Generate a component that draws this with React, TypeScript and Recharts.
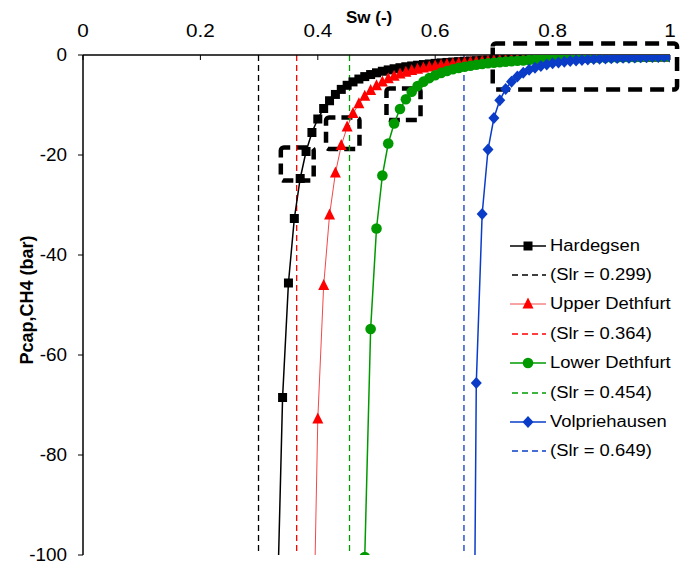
import React from "react";
import { LineChart, Line, XAxis, YAxis, ReferenceLine, ReferenceArea } from "recharts";

// Sw (-) and Pcap,CH4 (bar)
const swHardegsen = [
  0.33, 0.34, 0.35, 0.36, 0.37, 0.38, 0.39, 0.4, 0.41, 0.42, 0.43, 0.44, 0.45, 0.46, 0.47, 0.48, 0.49, 0.5,
  0.51, 0.52, 0.53, 0.54, 0.55, 0.56, 0.57, 0.58, 0.59, 0.6, 0.61, 0.62, 0.63, 0.64, 0.65, 0.66, 0.67, 0.68,
  0.69, 0.7, 0.71, 0.72, 0.73, 0.74, 0.75, 0.76, 0.77, 0.78, 0.79, 0.8, 0.81, 0.82, 0.83, 0.84, 0.85, 0.86,
  0.87, 0.88, 0.89, 0.9, 0.91, 0.92, 0.93, 0.94, 0.95, 0.96, 0.97, 0.98, 0.99, 1.0,
];
const pcHardegsen = [
  -115.2, -68.5, -45.6, -32.7, -24.7, -19.3, -15.5, -12.8, -10.7, -9.15, -7.89, -6.88, -6.06, -5.38, -4.81,
  -4.32, -3.91, -3.56, -3.25, -2.98, -2.75, -2.54, -2.35, -2.19, -2.04, -1.91, -1.79, -1.68, -1.58, -1.49,
  -1.41, -1.33, -1.26, -1.2, -1.14, -1.08, -1.03, -0.985, -0.94, -0.9, -0.86, -0.825, -0.79, -0.76, -0.73,
  -0.7, -0.675, -0.65, -0.63, -0.605, -0.58, -0.564, -0.545, -0.527, -0.51, -0.494, -0.48, -0.464, -0.45,
  -0.437, -0.42, -0.412, -0.4, -0.389, -0.38, -0.368, -0.36, -0.349,
];

const swUpper = [
  0.39, 0.4, 0.41, 0.42, 0.43, 0.44, 0.45, 0.46, 0.47, 0.48, 0.49, 0.5, 0.51, 0.52, 0.53, 0.54, 0.55, 0.56,
  0.57, 0.58, 0.59, 0.6, 0.61, 0.62, 0.63, 0.64, 0.65, 0.66, 0.67, 0.68, 0.69, 0.7, 0.71, 0.72, 0.73, 0.74,
  0.75, 0.76, 0.77, 0.78, 0.79, 0.8, 0.81, 0.82, 0.83, 0.84, 0.85, 0.86, 0.87, 0.88, 0.89, 0.9, 0.91, 0.92,
  0.93, 0.94, 0.95, 0.96, 0.97, 0.98, 0.99, 1.0,
];
const pcUpper = [
  -133.3, -72.8, -46.1, -32.0, -23.6, -18.1, -14.4, -11.7, -9.76, -8.26, -7.08, -6.14, -5.38, -4.76, -4.24,
  -3.8, -3.43, -3.11, -2.84, -2.6, -2.39, -2.2, -2.04, -1.89, -1.76, -1.65, -1.54, -1.45, -1.36, -1.28,
  -1.21, -1.14, -1.085, -1.03, -0.98, -0.93, -0.885, -0.84, -0.805, -0.77, -0.735, -0.7, -0.673, -0.647,
  -0.622, -0.597, -0.575, -0.553, -0.533, -0.514, -0.496, -0.479, -0.463, -0.448, -0.433, -0.419, -0.406,
  -0.393, -0.381, -0.37, -0.359, -0.349,
];

const swLower = [
  0.47, 0.48, 0.49, 0.5, 0.51, 0.52, 0.53, 0.54, 0.55, 0.56, 0.57, 0.58, 0.59, 0.6, 0.61, 0.62, 0.63, 0.64,
  0.65, 0.66, 0.67, 0.68, 0.69, 0.7, 0.71, 0.72, 0.73, 0.74, 0.75, 0.76, 0.77, 0.78, 0.79, 0.8, 0.81, 0.82,
  0.83, 0.84, 0.85, 0.86, 0.87, 0.88, 0.89, 0.9, 0.91, 0.92, 0.93, 0.94, 0.95, 0.96, 0.97, 0.98, 0.99, 1.0,
];
const pcLower = [
  -247.6, -100.4, -54.8, -34.7, -24.1, -17.7, -13.7, -10.8, -8.84, -7.35, -6.22, -5.33, -4.62, -4.05, -3.58,
  -3.19, -2.86, -2.58, -2.34, -2.14, -1.96, -1.8, -1.66, -1.54, -1.43, -1.33, -1.24, -1.16, -1.09, -1.02,
  -0.96, -0.91, -0.86, -0.814, -0.772, -0.733, -0.697, -0.664, -0.634, -0.605, -0.578, -0.553, -0.53,
  -0.508, -0.487, -0.468, -0.45, -0.433, -0.416, -0.401, -0.387, -0.374, -0.361, -0.349,
];

const swVolp = [
  0.66, 0.67, 0.68, 0.69, 0.7, 0.71, 0.72, 0.73, 0.74, 0.75, 0.76, 0.77, 0.78, 0.79, 0.8, 0.81, 0.82, 0.83,
  0.84, 0.85, 0.86, 0.87, 0.88, 0.89, 0.9, 0.91, 0.92, 0.93, 0.94, 0.95, 0.96, 0.97, 0.98, 0.99, 1.0,
];
const pcVolp = [
  -218.6, -65.6, -31.8, -18.9, -12.6, -9.03, -6.81, -5.33, -4.29, -3.54, -2.97, -2.53, -2.18, -1.9, -1.67,
  -1.49, -1.33, -1.19, -1.08, -0.98, -0.9, -0.82, -0.76, -0.7, -0.65, -0.605, -0.564, -0.527, -0.494, -0.464,
  -0.437, -0.412, -0.389, -0.368, -0.349,
];

const seriesNames = ["Hardegsen", "Upper Dethfurt", "Lower Dethfurt", "Volpriehausen"];
const slrValues = [0.299, 0.364, 0.454, 0.649];
const colors = ["#000000", "#ff0000", "#009a00", "#0a3cc8"];
const markers = ["square", "triangle", "circle", "diamond"];

const xTicks = [0, 0.2, 0.4, 0.6, 0.8, 1];
const yTicks = [-100, -80, -60, -40, -20, 0];

// dashed highlight boxes (Sw from/to, Pcap from/to)
const boxes = [
  { x1: 0.337, x2: 0.393, y1: -25.1, y2: -18.5 },
  { x1: 0.414, x2: 0.471, y1: -18.8, y2: -12.5 },
  { x1: 0.517, x2: 0.575, y1: -13.0, y2: -6.7 },
  { x1: 0.698, x2: 1.012, y1: -6.9, y2: 2.3 },
];

const toPoints = (sw: number[], pc: number[]) => sw.map((s, i) => ({ sw: s, pc: pc[i] }));
const series = [
  toPoints(swHardegsen, pcHardegsen),
  toPoints(swUpper, pcUpper),
  toPoints(swLower, pcLower),
  toPoints(swVolp, pcVolp),
];

function Marker({ kind, cx, cy, color }: { kind: string; cx: number; cy: number; color: string }) {
  if (cx == null || cy == null) return null;
  if (kind === "square") return <rect x={cx - 4.5} y={cy - 4.5} width={9} height={9} fill={color} />;
  if (kind === "triangle")
    return <polygon points={`${cx},${cy - 6.5} ${cx + 5.5},${cy + 4.5} ${cx - 5.5},${cy + 4.5}`} fill={color} />;
  if (kind === "circle") return <circle cx={cx} cy={cy} r={5.3} fill={color} />;
  return <polygon points={`${cx},${cy - 6} ${cx + 5.5},${cy} ${cx},${cy + 6} ${cx - 5.5},${cy}`} fill={color} />;
}

const font = "'Liberation Sans', Arial, sans-serif";

function TopTick({ x, y, payload }: any) {
  return (
    <g transform={`translate(${x},${y}) scale(1.15,1)`}>
      <text x={0} y={0} textAnchor="middle" fill="#000" fontSize={18} fontFamily={font}>
        {payload.value}
      </text>
    </g>
  );
}

function LeftTick({ x, y, payload }: any) {
  return (
    <g transform={`translate(${x},${y}) scale(1.05,1)`}>
      <text x={0} y={6} textAnchor="end" fill="#000" fontSize={18} fontFamily={font}>
        {payload.value}
      </text>
    </g>
  );
}

export default function App() {
  return (
    <div style={{ position: "absolute", left: 0, top: 0, width: 683, height: 569, background: "#fff", fontFamily: font }}>
      <LineChart width={683} height={569} margin={{ top: 25, right: 13, bottom: 14, left: 43 }}>
        <XAxis
          type="number"
          dataKey="sw"
          orientation="top"
          domain={[0, 1]}
          ticks={xTicks}
          allowDataOverflow
          height={30}
          tickSize={-5}
          tickMargin={23}
          tick={<TopTick />}
          axisLine={{ stroke: "#000", strokeWidth: 1.5 }}
          tickLine={{ stroke: "#000" }}
        />
        <YAxis
          type="number"
          dataKey="pc"
          domain={[-100, 0]}
          ticks={yTicks}
          allowDataOverflow
          width={40}
          tickSize={5}
          tickMargin={11}
          tick={<LeftTick />}
          axisLine={{ stroke: "#000", strokeWidth: 1.5 }}
          tickLine={{ stroke: "#000" }}
        />
        {slrValues.map((v, i) => (
          <ReferenceLine key={v} x={v} stroke={colors[i]} strokeWidth={1.3} strokeDasharray="6 4" />
        ))}
        {series.map((data, i) => (
          <Line
            key={seriesNames[i]}
            data={data}
            dataKey="pc"
            type="linear"
            stroke={i === 1 ? "#f24848" : colors[i]}
            strokeWidth={i === 1 ? 1 : 1.5}
            isAnimationActive={false}
            activeDot={false}
            dot={(p: any) => <Marker key={`${i}-${p.index}`} kind={markers[i]} cx={p.cx} cy={p.cy} color={colors[i]} />}
          />
        ))}
        {boxes.map((b, i) => (
          <ReferenceArea
            key={i}
            x1={b.x1}
            x2={b.x2}
            y1={b.y1}
            y2={b.y2}
            ifOverflow="visible"
            fill="none"
            stroke="#000"
            strokeWidth={4.5}
            strokeDasharray={i === 3 ? "14 8" : "11 6"}
            radius={3}
          />
        ))}
      </LineChart>

      <div style={{ position: "absolute", left: 346, top: 8, fontSize: 17, fontWeight: "bold" }}>Sw (-)</div>
      <div
        style={{
          position: "absolute",
          left: 27,
          top: 300,
          fontSize: 18,
          fontWeight: "bold",
          whiteSpace: "nowrap",
          transform: "translate(-50%, -50%) rotate(-90deg)",
        }}
      >
        Pcap,CH4 (bar)
      </div>

      <div style={{ position: "absolute", left: 508, top: 231 }}>
        {seriesNames.map((name, i) => (
          <React.Fragment key={name}>
            <div style={{ display: "flex", alignItems: "center", height: 29.4 }}>
              <svg width={40} height={14}>
                <line x1={2} y1={7} x2={38} y2={7} stroke={i === 1 ? "#f24848" : colors[i]} strokeWidth={i === 1 ? 1 : 1.5} />
                <Marker kind={markers[i]} cx={20} cy={7} color={colors[i]} />
              </svg>
              <span style={{ fontSize: 16, marginLeft: 2, display: "inline-block", transform: "scaleX(1.15)", transformOrigin: "left" }}>
                {name}
              </span>
            </div>
            <div style={{ display: "flex", alignItems: "center", height: 29.4 }}>
              <svg width={40} height={14}>
                <line x1={4} y1={7} x2={38} y2={7} stroke={colors[i]} strokeWidth={1.3} strokeDasharray="6 4" />
              </svg>
              <span style={{ fontSize: 16, marginLeft: 2, display: "inline-block", transform: "scaleX(1.15)", transformOrigin: "left" }}>
                (Slr = {slrValues[i]})
              </span>
            </div>
          </React.Fragment>
        ))}
      </div>
    </div>
  );
}
